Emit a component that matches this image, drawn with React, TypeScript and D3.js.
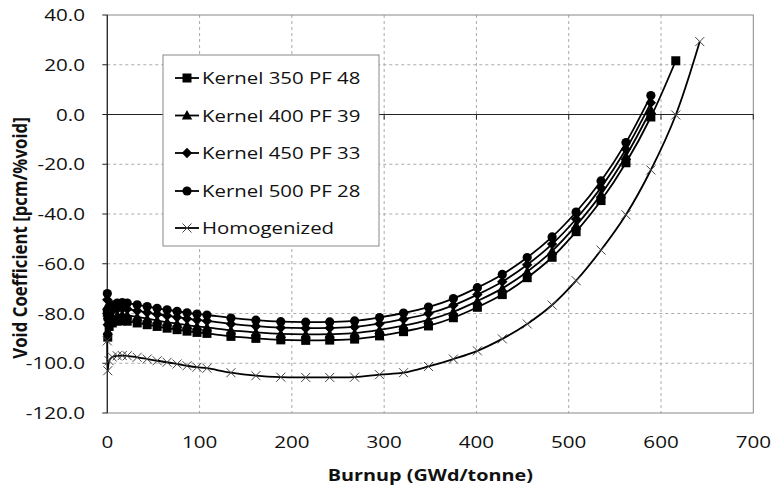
import React from "react";
import * as d3 from "d3";

const burnupKernel = [0, 0.5, 2, 5.4, 10.8, 16.2, 21.6, 32.4, 43.2, 54, 64.8, 75.6, 86.4, 97.2, 108, 134, 161, 188, 215, 241, 268, 295, 321, 348, 375, 401, 428, 455, 482, 508, 535, 562, 589];
const burnupK350 = [0, 0.5, 2, 5.4, 10.8, 16.2, 21.6, 32.4, 43.2, 54, 64.8, 75.6, 86.4, 97.2, 108, 134, 161, 188, 215, 241, 268, 295, 321, 348, 375, 401, 428, 455, 482, 508, 535, 562, 589, 616];
const burnupHomog = [0, 0.5, 2, 5.4, 10.8, 16.2, 21.6, 32.4, 43.2, 54, 64.8, 75.6, 86.4, 97.2, 108, 134, 161, 188, 215, 241, 268, 295, 321, 348, 375, 401, 428, 455, 482, 508, 535, 562, 589, 616, 642];

const k350 = [-79.5, -89.5, -85.2, -83.8, -83.1, -82.9, -83.1, -83.8, -84.5, -85.2, -85.9, -86.5, -87.1, -87.6, -88.0, -89.2, -90.0, -90.6, -90.8, -90.7, -90.3, -89.0, -87.3, -85.0, -81.7, -77.5, -72.4, -65.6, -57.4, -47.1, -34.6, -19.4, -1.0, 21.6];
const k400 = [-77, -87, -82.8, -81.4, -80.7, -80.5, -80.7, -81.4, -82.1, -82.8, -83.5, -84.1, -84.7, -85.2, -85.6, -86.8, -87.6, -88.2, -88.4, -88.3, -87.9, -86.6, -84.9, -82.6, -79.3, -75.0, -69.9, -63.2, -54.9, -44.6, -32.1, -16.7, 1.8];
const k450 = [-74.5, -84.5, -80.4, -78.9, -78.2, -78.0, -78.2, -78.9, -79.6, -80.3, -80.9, -81.5, -82.1, -82.6, -83.0, -84.2, -85.1, -85.7, -85.9, -85.8, -85.4, -84.1, -82.3, -80.0, -76.7, -72.4, -67.2, -60.4, -52.1, -42.0, -29.4, -14.0, 4.7];
const k500 = [-72, -82, -78, -76.5, -75.8, -75.6, -75.8, -76.5, -77.2, -77.9, -78.5, -79.1, -79.7, -80.2, -80.6, -81.8, -82.7, -83.3, -83.5, -83.4, -83.0, -81.6, -79.8, -77.4, -74.0, -69.6, -64.3, -57.5, -49.2, -39.2, -26.7, -11.3, 7.6];
const homog = [-91, -103, -99, -97.5, -97.0, -96.9, -97.0, -97.6, -98.3, -99.0, -99.6, -100.3, -101.0, -101.6, -102.0, -103.8, -105.0, -105.6, -105.7, -105.7, -105.6, -104.6, -103.8, -101.3, -98.3, -95.0, -90.2, -84.2, -76.6, -66.8, -54.5, -40.3, -22.3, -0.2, 29.3];

const seriesNames = ["Kernel 350 PF 48", "Kernel 400 PF 39", "Kernel 450 PF 33", "Kernel 500 PF 28", "Homogenized"];
const xTicks = [0, 100, 200, 300, 400, 500, 600, 700];
const yTicks = [40, 20, 0, -20, -40, -60, -80, -100, -120];

const FONT = "'Open Sans', 'Liberation Sans', sans-serif";
const SX = 1.25;

const L = 107.3, R = 753.3, T = 15, B = 413;
const x = d3.scaleLinear().domain([0, 700]).range([L, R]);
const y = d3.scaleLinear().domain([-120, 40]).range([B, T]);

type Kind = "square" | "triangle" | "diamond" | "circle" | "x";

function Marker({ kind, cx, cy }: { kind: Kind; cx: number; cy: number }) {
  const s = 4.5;
  if (kind === "square") return <rect x={cx - s} y={cy - s} width={2 * s} height={2 * s} fill="#000" />;
  if (kind === "circle") return <circle cx={cx} cy={cy} r={4.6} fill="#000" />;
  if (kind === "triangle")
    return <path d={`M${cx},${cy - 5.4} L${cx + 5.2},${cy + 4} L${cx - 5.2},${cy + 4} Z`} fill="#000" />;
  if (kind === "diamond")
    return <path d={`M${cx},${cy - 5.2} L${cx + 5.2},${cy} L${cx},${cy + 5.2} L${cx - 5.2},${cy} Z`} fill="#000" />;
  return (
    <path
      d={`M${cx - 4.5},${cy - 4.5} L${cx + 4.5},${cy + 4.5} M${cx - 4.5},${cy + 4.5} L${cx + 4.5},${cy - 4.5}`}
      stroke="#444"
      strokeWidth={1}
      fill="none"
    />
  );
}

function Txt(props: { x: number; y: number; anchor?: string; size: number; bold?: boolean; children: React.ReactNode; sx?: number }) {
  const { anchor = "start", size, bold, children, sx = SX } = props;
  return (
    <text
      transform={`translate(${props.x},${props.y}) scale(${sx},1)`}
      textAnchor={anchor}
      fontFamily={FONT}
      fontSize={size}
      fontWeight={bold ? 700 : 400}
      fill="#111"
    >
      {children}
    </text>
  );
}

export default function App() {
  const series: { xs: number[]; ys: number[]; kind: Kind }[] = [
    { xs: burnupK350, ys: k350, kind: "square" },
    { xs: burnupKernel, ys: k400, kind: "triangle" },
    { xs: burnupKernel, ys: k450, kind: "diamond" },
    { xs: burnupKernel, ys: k500, kind: "circle" },
    { xs: burnupHomog, ys: homog, kind: "x" },
  ];
  const line = d3
    .line<[number, number]>()
    .x((d) => x(d[0]))
    .y((d) => y(d[1]))
    .curve(d3.curveCatmullRom.alpha(0.5));

  const legendY = [78, 115.5, 153, 191, 228];

  return (
    <svg width={771} height={489} style={{ position: "absolute", left: 0, top: 0, background: "#fff" }}>
      <rect x={0} y={0} width={771} height={489} fill="#fff" />
      {xTicks.filter((t) => t > 0 && t < 700).map((t) => (
        <line key={"gx" + t} x1={x(t)} x2={x(t)} y1={T} y2={B} stroke="#aaa" strokeDasharray="3,3" />
      ))}
      {yTicks.filter((t) => t < 40 && t > -120 && t !== 0).map((t) => (
        <line key={"gy" + t} x1={L} x2={R} y1={y(t)} y2={y(t)} stroke="#aaa" strokeDasharray="3,3" />
      ))}
      <rect x={L} y={T} width={R - L} height={B - T} fill="none" stroke="#888" strokeWidth={1} />
      <line x1={L} x2={L} y1={T} y2={B} stroke="#222" strokeWidth={1.2} />
      <line x1={L} x2={R} y1={y(0)} y2={y(0)} stroke="#222" strokeWidth={1.2} />
      {yTicks.map((t) => (
        <line key={"ty" + t} x1={L - 5} x2={L} y1={y(t)} y2={y(t)} stroke="#222" />
      ))}
      {xTicks.map((t) => (
        <line key={"tx" + t} x1={x(t)} x2={x(t)} y1={y(0)} y2={y(0) + 5} stroke="#222" />
      ))}
      {yTicks.map((t) => (
        <Txt key={"ly" + t} x={85} y={y(t) + 6} anchor="end" size={16.5}>
          {t.toFixed(1)}
        </Txt>
      ))}
      {xTicks.map((t) => (
        <Txt key={"lx" + t} x={x(t)} y={448} anchor="middle" size={16.5}>
          {t}
        </Txt>
      ))}
      <Txt x={(L + R) / 2} y={481} anchor="middle" size={16.5} bold sx={1.2}>
        Burnup (GWd/tonne)
      </Txt>
      <text
        transform={`translate(27,238) rotate(-90) scale(1.05,1.25)`}
        textAnchor="middle"
        fontFamily={FONT}
        fontSize={16}
        fontWeight={700}
        fill="#111"
      >
        Void Coefficient [pcm/%void]
      </text>
      {series.map((s, i) => {
        const pts = s.xs.map((v, j) => [v, s.ys[j]] as [number, number]);
        return (
          <g key={"s" + i}>
            <path d={line(pts) || ""} fill="none" stroke="#000" strokeWidth={1.8} />
            {pts.map((p, j) => (
              <Marker key={j} kind={s.kind} cx={x(p[0])} cy={y(p[1])} />
            ))}
          </g>
        );
      })}
      <rect x={163} y={55} width={216} height={191} fill="#fff" stroke="#888" strokeWidth={1} />
      {seriesNames.map((n, i) => (
        <g key={"lg" + i}>
          <line x1={175} x2={199} y1={legendY[i]} y2={legendY[i]} stroke="#000" strokeWidth={1.8} />
          <Marker kind={series[i].kind} cx={187} cy={legendY[i]} />
          <Txt x={202} y={legendY[i] + 6} size={17} sx={1.2}>
            {n}
          </Txt>
        </g>
      ))}
    </svg>
  );
}
